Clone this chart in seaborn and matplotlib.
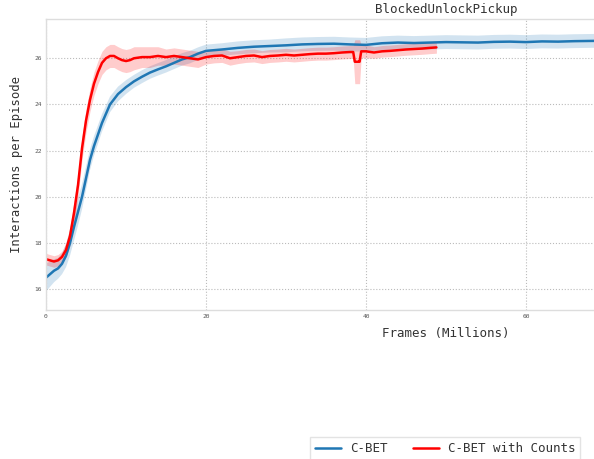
import numpy as np
import pandas as pd
import matplotlib
matplotlib.use("Agg")
import matplotlib.pyplot as plt
import seaborn as sns

# C-BET: frames (millions), mean return, half-width of the shaded band
cbet_x = [0, 0.5, 1, 1.5, 2, 2.5, 3, 3.5, 4, 4.5, 5, 5.5, 6, 6.5, 7, 7.5, 8,
          9, 10, 11, 12, 13, 14, 15, 16, 17, 18, 19, 20, 22, 24, 26, 28, 30,
          32, 34, 36, 38, 40, 42, 44, 46, 48, 50, 52, 54, 56, 58, 60, 62, 64,
          66, 68, 70, 75, 80, 85, 90, 95, 100]
cbet_y = [16.5, 16.65, 16.8, 16.9, 17.1, 17.45, 18.0, 18.7, 19.35, 20.0, 20.8,
          21.6, 22.2, 22.7, 23.2, 23.6, 24.0, 24.45, 24.75, 25.0, 25.2, 25.38,
          25.52, 25.65, 25.8, 25.95, 26.05, 26.2, 26.32, 26.38, 26.45, 26.5,
          26.53, 26.56, 26.6, 26.62, 26.63, 26.6, 26.58, 26.65, 26.68, 26.66,
          26.68, 26.7, 26.69, 26.68, 26.71, 26.72, 26.7, 26.73, 26.72, 26.74,
          26.75, 26.76, 26.77, 26.78, 26.78, 26.79, 26.8, 26.8]
cbet_hw = [0.6, 0.55, 0.5, 0.45, 0.45, 0.5, 0.55, 0.6, 0.6, 0.55, 0.5, 0.45,
           0.42, 0.4, 0.38, 0.36, 0.34, 0.32, 0.3, 0.28, 0.28, 0.27, 0.27,
           0.27, 0.27, 0.27, 0.27, 0.27, 0.27, 0.27, 0.28, 0.28, 0.28, 0.3,
           0.3, 0.3, 0.3, 0.3, 0.3, 0.3, 0.3, 0.3, 0.3, 0.3, 0.3, 0.3, 0.3,
           0.3, 0.3, 0.3, 0.3, 0.3, 0.3, 0.3, 0.3, 0.3, 0.3, 0.3, 0.3, 0.3]

# C-BET with Counts
counts_x = [0, 0.5, 1, 1.5, 2, 2.5, 3, 3.5, 4, 4.5, 5, 5.5, 6, 6.5, 7, 7.5, 8,
            8.5, 9, 9.5, 10, 10.5, 11, 12, 13, 14, 15, 16, 17, 18, 19, 20, 21,
            22, 23, 24, 25, 26, 27, 28, 29, 30, 31, 32, 33, 34, 35, 36, 37,
            38, 38.4, 38.6, 39, 39.2, 39.4, 40, 41, 42, 43, 44, 45, 46, 47, 48,
            48.8]
counts_y = [17.3, 17.25, 17.2, 17.25, 17.4, 17.7, 18.3, 19.3, 20.5, 22.1, 23.3,
            24.2, 24.9, 25.4, 25.8, 26.0, 26.1, 26.1, 26.0, 25.92, 25.88,
            25.92, 26.0, 26.05, 26.05, 26.1, 26.05, 26.1, 26.05, 26.0, 25.95,
            26.05, 26.1, 26.12, 26.0, 26.05, 26.1, 26.12, 26.05, 26.1, 26.12,
            26.15, 26.12, 26.15, 26.18, 26.2, 26.2, 26.22, 26.25, 26.27, 26.27,
            25.85, 25.85, 25.85, 26.3, 26.3, 26.25, 26.3, 26.32, 26.35, 26.38,
            26.4, 26.42, 26.45, 26.47]
counts_hw = [0.25, 0.25, 0.25, 0.25, 0.25, 0.3, 0.4, 0.5, 0.5, 0.5, 0.5, 0.5,
             0.5, 0.5, 0.5, 0.5, 0.5, 0.5, 0.5, 0.5, 0.5, 0.5, 0.5, 0.45, 0.45,
             0.4, 0.35, 0.35, 0.35, 0.35, 0.35, 0.3, 0.3, 0.3, 0.3, 0.28, 0.28,
             0.28, 0.28, 0.28, 0.28, 0.28, 0.28, 0.28, 0.28, 0.28, 0.28, 0.28,
             0.28, 0.28, 0.28, 0.95, 0.95, 0.95, 0.28, 0.28, 0.25, 0.25, 0.25,
             0.25, 0.25, 0.25, 0.25, 0.25, 0.25]

series_names = ["C-BET", "C-BET with Counts"]
series_colors = ["#1f77b4", "#ff0000"]

sns.set_theme(style="whitegrid")
plt.rcParams["font.family"] = ["DejaVu Sans Mono"]

df = pd.concat([
    pd.DataFrame({"frames": cbet_x, "value": cbet_y, "hw": cbet_hw,
                  "method": series_names[0]}),
    pd.DataFrame({"frames": counts_x, "value": counts_y, "hw": counts_hw,
                  "method": series_names[1]}),
], ignore_index=True)

fig = plt.figure(figsize=(5.94, 4.59), dpi=100)
ax = fig.add_axes([46 / 594, 1 - 310 / 459, 800 / 594, 291 / 459])

palette = dict(zip(series_names, series_colors))
for name in series_names:
    sub = df[df["method"] == name]
    ax.fill_between(sub["frames"], sub["value"] - sub["hw"],
                    sub["value"] + sub["hw"], color=palette[name],
                    alpha=0.2, linewidth=0)

sns.lineplot(data=df, x="frames", y="value", hue="method", palette=palette,
             hue_order=series_names, linewidth=1.8, ax=ax, legend=True,
             estimator=None, sort=False)

ax.set_xlim(0, 100)
ax.set_ylim(15.1, 27.7)
ax.set_xticks([0, 20, 40, 60, 80, 100])
ax.set_xticklabels(["0", "20", "40", "60", "", ""])
ax.set_yticks([16, 18, 20, 22, 24, 26])
ax.tick_params(labelsize=4.5, colors="#555555", pad=3, length=0)
ax.grid(True, linestyle=":", color="#bbbbbb", linewidth=0.8)
for s in ax.spines.values():
    s.set_color("#dddddd")
    s.set_linewidth(1.0)

ax.set_title("BlockedUnlockPickup", fontsize=9, color="#333333", pad=4)
ax.set_xlabel("Frames (Millions)", fontsize=9, color="#333333", labelpad=6)
ax.set_ylabel("Interactions per Episode", fontsize=8.8, color="#333333",
              labelpad=8)

handles, labels = ax.get_legend_handles_labels()
ax.get_legend().remove()
fig.legend(handles, labels, loc="upper center", ncol=2,
           bbox_to_anchor=(445 / 594, 1 - 431 / 459), fontsize=9,
           frameon=True, edgecolor="#dddddd", fancybox=False,
           handlelength=2.1, handletextpad=0.7, columnspacing=2.0,
           borderpad=0.4)
for t in fig.legends[0].get_texts():
    t.set_color("#333333")

fig.savefig("out.png", dpi=100)
